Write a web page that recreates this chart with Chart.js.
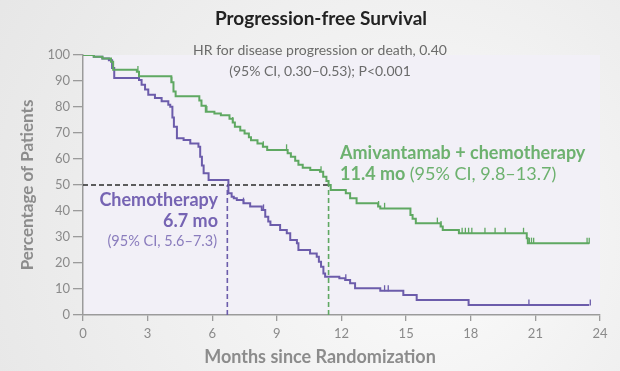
<!DOCTYPE html>
<html>
<head>
<meta charset="utf-8">
<script src="https://cdn.jsdelivr.net/npm/chart.js@4/dist/chart.umd.min.js"></script>
<style>
  html, body { margin: 0; padding: 0; background: #efefef; }
  #wrap { width: 620px; height: 371px; }
</style>
</head>
<body>
<div id="wrap"><canvas id="c" width="620" height="371"></canvas></div>
<script>
// Kaplan-Meier estimates: event times (months) and survival (%) after each step
const amiTimes = [0, 0.5, 0.9, 1.3, 1.4, 2.5, 2.6, 4.1, 4.2, 4.3, 5.4, 5.5, 5.7, 6.1, 6.4, 6.8, 6.95, 7.05, 7.3, 7.5, 7.7, 7.8, 8.1, 8.35, 8.55, 9.5, 9.65, 9.85, 10.0, 10.2, 10.55, 11.0, 11.15, 11.3, 11.4, 11.5, 12.2, 12.4, 12.7, 13.7, 13.8, 15.2, 15.3, 15.45, 16.6, 16.7, 17.45, 20.6, 20.65, 23.5];
const amiSurv  = [100, 99.3, 98.7, 97.4, 94.3, 93.6, 91.8, 89.5, 86.0, 84.1, 82.5, 80.5, 78.2, 77.5, 76.8, 75.5, 74.0, 72.4, 71.0, 69.8, 68.4, 67.2, 66.0, 64.7, 63.5, 62.2, 60.9, 59.3, 57.8, 56.6, 55.8, 55.1, 53.2, 51.5, 50.0, 48.1, 46.8, 44.9, 43.0, 41.7, 41.0, 38.5, 37.0, 35.3, 34.0, 32.7, 31.4, 29.5, 27.6, 27.6];

const chemoTimes = [0, 0.5, 0.9, 1.2, 1.35, 1.45, 2.6, 2.72, 2.88, 3.03, 3.34, 3.65, 3.96, 4.05, 4.15, 4.22, 4.36, 4.67, 4.98, 5.36, 5.44, 5.52, 5.6, 5.83, 6.75, 6.9, 7.0, 7.14, 7.45, 7.76, 8.3, 8.46, 8.6, 8.7, 9.15, 9.46, 9.62, 9.93, 10.0, 10.54, 10.85, 10.95, 11.05, 11.16, 11.24, 11.9, 12.17, 12.4, 12.63, 13.8, 14.87, 15.49, 17.9, 23.5];
const chemoSurv  = [100, 99.3, 98.7, 98.0, 95.0, 91.2, 90.4, 88.6, 86.7, 84.7, 83.5, 82.2, 80.9, 80.1, 76.0, 72.4, 68.0, 67.3, 66.0, 64.7, 60.9, 57.5, 54.5, 51.9, 46.8, 45.5, 44.9, 44.2, 43.0, 41.7, 40.4, 37.8, 36.0, 34.6, 32.7, 31.4, 28.8, 27.6, 25.0, 23.7, 22.4, 20.5, 18.6, 16.0, 14.7, 14.1, 13.5, 12.2, 10.3, 9.3, 7.7, 5.8, 3.8, 3.8];

// Censored observations (months)
const amiCensor   = [2.55, 4.12, 5.75, 6.95, 8.37, 9.45, 11.05, 13.72, 14.0, 16.45, 16.62, 17.6, 17.75, 17.9, 18.05, 18.66, 19.13, 19.6, 20.45, 20.72, 20.82, 20.92, 23.4, 23.5];
const chemoCensor = [7.45, 8.38, 12.2, 14.0, 14.17, 20.7, 23.55];

// Medians (months)
const amiMedian = 11.4;
const chemoMedian = 6.7;

// Axis ticks
const xTickLabels = [0, 3, 6, 9, 12, 15, 18, 21, 24];
const yTickLabels = [0, 10, 20, 30, 40, 50, 60, 70, 80, 90, 100];

const GREEN = '#5fa862';
const GREEN_TEXT = '#6db16f';
const PURPLE = '#6c5cab';
const PURPLE_TEXT = '#7664b3';
const AXIS = '#9b9b9b';
const FONT = 'Lato, "Open Sans", sans-serif';

function toPoints(times, surv) {
  return times.map((t, i) => ({ x: t, y: surv[i] }));
}
function survivalAt(times, surv, t) {
  let v = surv[0];
  for (let i = 0; i < times.length; i++) {
    if (times[i] <= t) v = surv[i]; else break;
  }
  return v;
}
function censorPoints(cens, times, surv) {
  return cens.map(t => ({ x: t, y: survivalAt(times, surv, t) + 1 }));
}

const backdrop = {
  id: 'backdrop',
  beforeDraw(chart) {
    const { ctx, chartArea: a, width, height } = chart;
    ctx.save();
    const g = ctx.createRadialGradient(440, 250, 40, 380, 220, 460);
    g.addColorStop(0, '#f9f9f9');
    g.addColorStop(1, '#e6e6e6');
    ctx.fillStyle = g;
    ctx.fillRect(0, 0, width, height);
    ctx.fillStyle = '#f2f0f7';
    ctx.fillRect(a.left, a.top, a.right - a.left, a.bottom - a.top);
    ctx.restore();
  }
};

const labels = {
  id: 'labels',
  afterDraw(chart) {
    const ctx = chart.ctx;
    ctx.save();
    ctx.textBaseline = 'middle';

    ctx.textAlign = 'center';
    ctx.fillStyle = '#222222';
    ctx.font = 'bold 19px ' + FONT;
    ctx.fillText('Progression-free Survival', 321, 19);

    ctx.fillStyle = '#6b6b6b';
    ctx.font = '14px ' + FONT;
    ctx.fillText('HR for disease progression or death, 0.40', 320, 50);
    ctx.fillText('(95% CI, 0.30\u20130.53); P<0.001', 320, 71);

    // axis titles
    ctx.fillStyle = '#8c8c8c';
    ctx.font = 'bold 18px ' + FONT;
    ctx.fillText('Months since Randomization', 320, 357);
    ctx.save();
    ctx.translate(28, 185);
    ctx.rotate(-Math.PI / 2);
    ctx.font = 'bold 17px ' + FONT;
    ctx.fillText('Percentage of Patients', 0, 0);
    ctx.restore();

    // amivantamab arm
    ctx.textAlign = 'left';
    ctx.fillStyle = GREEN_TEXT;
    ctx.font = 'bold 18px ' + FONT;
    ctx.fillText('Amivantamab + chemotherapy', 340, 153);
    const lead = '11.4 mo';
    ctx.fillText(lead, 340, 174);
    const w = ctx.measureText(lead + ' ').width;
    ctx.font = '18px ' + FONT;
    ctx.fillText('(95% CI, 9.8\u201313.7)', 340 + w, 174);

    // chemotherapy arm
    ctx.textAlign = 'right';
    ctx.fillStyle = PURPLE_TEXT;
    ctx.font = 'bold 18px ' + FONT;
    ctx.fillText('Chemotherapy', 218, 200);
    ctx.fillText('6.7 mo', 218, 221);
    ctx.fillStyle = '#8a7cbd';
    ctx.font = '14.5px ' + FONT;
    ctx.fillText('(95% CI, 5.6\u20137.3)', 217, 241);

    ctx.restore();
  }
};

new Chart(document.getElementById('c'), {
  type: 'scatter',
  data: {
    datasets: [
      {
        label: 'median',
        data: [{ x: 0, y: 50 }, { x: amiMedian, y: 50 }],
        showLine: true, borderColor: '#2b2b2b', borderWidth: 1.4, borderDash: [5, 3],
        pointRadius: 0, order: 5
      },
      {
        label: 'chemo median',
        data: [{ x: chemoMedian, y: 0 }, { x: chemoMedian, y: 50 }],
        showLine: true, borderColor: PURPLE, borderWidth: 1.6, borderDash: [5, 3],
        pointRadius: 0, order: 5
      },
      {
        label: 'ami median',
        data: [{ x: amiMedian, y: 0 }, { x: amiMedian, y: 50 }],
        showLine: true, borderColor: GREEN, borderWidth: 1.6, borderDash: [5, 3],
        pointRadius: 0, order: 5
      },
      {
        label: 'Chemotherapy',
        data: toPoints(chemoTimes, chemoSurv),
        showLine: true, stepped: true, borderColor: PURPLE, borderWidth: 2,
        pointRadius: 0, order: 2
      },
      {
        label: 'Amivantamab + chemotherapy',
        data: toPoints(amiTimes, amiSurv),
        showLine: true, stepped: true, borderColor: GREEN, borderWidth: 2,
        pointRadius: 0, order: 1
      },
      {
        label: 'chemo censored',
        data: censorPoints(chemoCensor, chemoTimes, chemoSurv),
        showLine: false, pointStyle: 'line', rotation: 90, pointRadius: 3,
        borderColor: PURPLE, pointBorderColor: PURPLE, pointBorderWidth: 1.3, order: 0
      },
      {
        label: 'ami censored',
        data: censorPoints(amiCensor, amiTimes, amiSurv),
        showLine: false, pointStyle: 'line', rotation: 90, pointRadius: 3,
        borderColor: GREEN, pointBorderColor: GREEN, pointBorderWidth: 1.3, order: 0
      }
    ]
  },
  options: {
    responsive: false,
    animation: false,
    devicePixelRatio: 1,
    layout: { padding: { top: 55, right: 20, bottom: 0, left: 0 } },
    plugins: { legend: { display: false }, tooltip: { enabled: false } },
    scales: {
      x: {
        type: 'linear', min: 0, max: 24,
        afterBuildTicks(s) { s.ticks = xTickLabels.map(v => ({ value: v })); },
        afterFit(s) { s.height = 56; },
        ticks: { color: '#8a8a8a', font: { family: FONT, size: 13 }, padding: 5, maxRotation: 0 },
        grid: { drawOnChartArea: false, drawTicks: true, tickLength: 6, color: AXIS, lineWidth: 1.3 },
        border: { color: AXIS, width: 1.5 }
      },
      y: {
        min: 0, max: 100,
        afterBuildTicks(s) { s.ticks = yTickLabels.map(v => ({ value: v })); },
        afterFit(s) { s.width = 83; },
        ticks: { color: '#8a8a8a', font: { family: FONT, size: 13 }, padding: 3 },
        grid: { drawOnChartArea: false, drawTicks: true, tickLength: 10, color: AXIS, lineWidth: 1.3 },
        border: { color: AXIS, width: 1.5 }
      }
    }
  },
  plugins: [backdrop, labels]
});
</script>
</body>
</html>
